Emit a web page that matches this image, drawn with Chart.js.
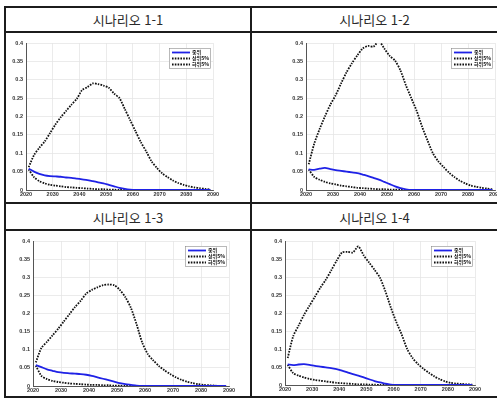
<!DOCTYPE html>
<html lang="ko">
<head>
<meta charset="utf-8">
<script src="https://cdn.jsdelivr.net/npm/chart.js@4.4.1/dist/chart.umd.min.js"></script>
<style>
  html, body { margin: 0; padding: 0; background: #fff; }
  body { width: 497px; height: 398px; position: relative; overflow: hidden; font-family: "Noto Sans CJK KR", sans-serif; }
  .rule { position: absolute; background: #1c1c1c; z-index: 2; }
  .title { position: absolute; text-align: center; font-size: 13px; color: #2a2a2a; z-index: 2; }
  canvas { position: absolute; }
</style>
</head>
<body>
  <!-- table frame -->
  <div class="rule" style="left:4px; top:6px; width:493px; height:2px"></div>
  <div class="rule" style="left:4px; top:31px; width:493px; height:2px"></div>
  <div class="rule" style="left:4px; top:202px; width:493px; height:2px"></div>
  <div class="rule" style="left:4px; top:229px; width:493px; height:2px"></div>
  <div class="rule" style="left:4px; top:396px; width:493px; height:2px"></div>
  <div class="rule" style="left:4px; top:6px; width:2px; height:392px"></div>
  <div class="rule" style="left:250px; top:6px; width:2px; height:392px"></div>

  <div class="title" style="left:6px; top:8px; width:244px; height:24px; line-height:24px">시나리오 1-1</div>
  <div class="title" style="left:252px; top:8px; width:245px; height:24px; line-height:24px">시나리오 1-2</div>
  <div class="title" style="left:6px; top:205px; width:244px; height:25px; line-height:25px">시나리오 1-3</div>
  <div class="title" style="left:252px; top:205px; width:245px; height:25px; line-height:25px">시나리오 1-4</div>

  <canvas id="c11" style="left:6px; top:34px"></canvas>
  <canvas id="c12" style="left:254px; top:34px"></canvas>
  <canvas id="c13" style="left:6px; top:232px"></canvas>
  <canvas id="c14" style="left:254px; top:232px"></canvas>

<script>
const years = [2021, 2023, 2025, 2027, 2029, 2031, 2033, 2035, 2037, 2039, 2041, 2043,
  2045, 2047, 2049, 2051, 2053, 2055, 2057, 2059, 2061, 2063, 2065, 2067, 2069, 2071,
  2073, 2075, 2077, 2079, 2081, 2083, 2085, 2087, 2089];
const xTicks = [2020, 2030, 2040, 2050, 2060, 2070, 2080, 2090];
const yTicks = [0, 0.05, 0.1, 0.15, 0.2, 0.25, 0.3, 0.35, 0.4];
const seriesLabels = ['중위', '상위5%', '하위5%'];

// 시나리오 1-1
const median11 = [0.058, 0.05, 0.044, 0.04, 0.038, 0.037, 0.036, 0.034, 0.033, 0.031, 0.029, 0.027,
  0.024, 0.021, 0.018, 0.014, 0.01, 0.006, 0.003, 0.001, 0, 0, 0, 0, 0, 0, 0, 0, 0, 0, 0, 0, 0, 0, 0];
const upper11 = [0.062, 0.095, 0.115, 0.132, 0.155, 0.178, 0.198, 0.215, 0.232, 0.248, 0.272, 0.28,
  0.29, 0.288, 0.284, 0.278, 0.262, 0.25, 0.22, 0.19, 0.16, 0.13, 0.105, 0.078, 0.06, 0.045,
  0.035, 0.026, 0.019, 0.014, 0.01, 0.007, 0.005, 0.003, 0.001];
const lower11 = [0.056, 0.035, 0.024, 0.018, 0.014, 0.012, 0.01, 0.008, 0.007, 0.006, 0.005, 0.004,
  0.003, 0.002, 0.002, 0.001, 0.001, 0, 0, 0, 0, 0, 0, 0, 0, 0, 0, 0, 0, 0, 0, 0, 0, 0, 0];

// 시나리오 1-2
const median12 = [0.056, 0.055, 0.058, 0.06, 0.057, 0.054, 0.052, 0.05, 0.048, 0.046, 0.042, 0.038,
  0.033, 0.028, 0.022, 0.016, 0.01, 0.005, 0.002, 0, 0, 0, 0, 0, 0, 0, 0, 0, 0, 0, 0, 0, 0, 0, 0];
const upper12 = [0.07, 0.125, 0.165, 0.2, 0.232, 0.258, 0.29, 0.32, 0.345, 0.366, 0.385, 0.392,
  0.39, 0.405, 0.385, 0.365, 0.352, 0.325, 0.285, 0.25, 0.215, 0.172, 0.135, 0.1, 0.078, 0.062,
  0.047, 0.035, 0.025, 0.018, 0.012, 0.009, 0.006, 0.004, 0.002];
const lower12 = [0.056, 0.036, 0.028, 0.022, 0.018, 0.015, 0.012, 0.01, 0.008, 0.006, 0.005, 0.004,
  0.003, 0.002, 0.002, 0.001, 0.001, 0, 0, 0, 0, 0, 0, 0, 0, 0, 0, 0, 0, 0, 0, 0, 0, 0, 0];

// 시나리오 1-3
const median13 = [0.058, 0.052, 0.046, 0.042, 0.038, 0.036, 0.035, 0.034, 0.033, 0.031, 0.028, 0.024,
  0.02, 0.016, 0.012, 0.008, 0.005, 0.003, 0.001, 0, 0, 0, 0, 0, 0, 0, 0, 0, 0, 0, 0, 0, 0, 0, 0];
const upper13 = [0.065, 0.105, 0.122, 0.14, 0.158, 0.178, 0.198, 0.218, 0.235, 0.255, 0.265, 0.272,
  0.278, 0.28, 0.278, 0.265, 0.245, 0.215, 0.17, 0.12, 0.088, 0.07, 0.055, 0.043, 0.033, 0.024,
  0.017, 0.012, 0.008, 0.005, 0.003, 0.002, 0.001, 0, 0];
const lower13 = [0.056, 0.028, 0.019, 0.014, 0.011, 0.009, 0.007, 0.006, 0.005, 0.004, 0.003, 0.003,
  0.002, 0.002, 0.001, 0.001, 0, 0, 0, 0, 0, 0, 0, 0, 0, 0, 0, 0, 0, 0, 0, 0, 0, 0, 0];

// 시나리오 1-4
const median14 = [0.057, 0.055, 0.057, 0.058, 0.056, 0.053, 0.051, 0.049, 0.047, 0.044, 0.04, 0.035,
  0.03, 0.026, 0.021, 0.016, 0.011, 0.007, 0.004, 0.001, 0, 0, 0, 0, 0, 0, 0, 0, 0, 0, 0, 0, 0, 0, 0];
const upper14 = [0.075, 0.135, 0.165, 0.195, 0.22, 0.245, 0.27, 0.292, 0.318, 0.345, 0.368, 0.37,
  0.368, 0.385, 0.36, 0.34, 0.32, 0.298, 0.26, 0.215, 0.175, 0.14, 0.1, 0.075, 0.058, 0.045,
  0.034, 0.024, 0.016, 0.01, 0.006, 0.004, 0.003, 0.002, 0.001];
const lower14 = [0.056, 0.033, 0.026, 0.021, 0.017, 0.014, 0.012, 0.01, 0.008, 0.006, 0.005, 0.004,
  0.003, 0.002, 0.002, 0.001, 0.001, 0, 0, 0, 0, 0, 0, 0, 0, 0, 0, 0, 0, 0, 0, 0, 0, 0, 0];

const toPoints = vals => years.map((x, i) => ({ x, y: vals[i] }));

// small boxed legend in the upper right of the plot area
const boxLegend = {
    id: 'boxLegend',
    afterDatasetsDraw(chart) {
        const { ctx, chartArea } = chart;
        const w = 42, h = 21;
        const x = chartArea.right - w - 2, y = chartArea.top + 5;
        ctx.save();
        ctx.fillStyle = '#fff';
        ctx.fillRect(x, y, w, h);
        ctx.strokeStyle = '#8a8a8a';
        ctx.lineWidth = 0.6;
        ctx.strokeRect(x + 0.5, y + 0.5, w - 1, h - 1);
        ctx.font = 'bold 5px "Noto Sans CJK KR"';
        ctx.textBaseline = 'middle';
        chart.data.datasets.forEach((ds, i) => {
            const ly = y + 4.5 + i * 6;
            ctx.strokeStyle = ds.borderColor;
            ctx.lineWidth = ds.borderWidth;
            ctx.setLineDash(ds.borderDash || []);
            ctx.beginPath();
            ctx.moveTo(x + 3, ly);
            ctx.lineTo(x + 21, ly);
            ctx.stroke();
            ctx.setLineDash([]);
            ctx.fillStyle = '#111';
            ctx.fillText(ds.label, x + 23, ly);
        });
        ctx.restore();
    }
};

const tickFont = { family: 'Arial, "Liberation Sans"', size: 5.5, weight: 'bold' };

const makeChart = (id, size, pad, axisW, axisH, median, upper, lower) => {
    const el = document.getElementById(id);
    el.width = size[0];
    el.height = size[1];
    el.style.width = size[0] + 'px';
    el.style.height = size[1] + 'px';
    return new Chart(el, {
        type: 'line',
        data: {
            datasets: [
                { label: seriesLabels[0], data: toPoints(median), borderColor: '#1f22e6', borderWidth: 1.8 },
                { label: seriesLabels[1], data: toPoints(upper), borderColor: '#111', borderWidth: 1.8, borderDash: [1.6, 1.2] },
                { label: seriesLabels[2], data: toPoints(lower), borderColor: '#111', borderWidth: 1.8, borderDash: [1.6, 1.2] }
            ]
        },
        options: {
            responsive: false,
            animation: false,
            events: [],
            elements: { point: { radius: 0 }, line: { tension: 0.25 } },
            layout: { padding: { top: pad[0], right: pad[1], left: 0, bottom: 0 } },
            plugins: { legend: { display: false }, tooltip: { enabled: false } },
            scales: {
                x: {
                    type: 'linear', min: 2020, max: 2090,
                    afterBuildTicks: s => { s.ticks = xTicks.map(v => ({ value: v })); },
                    afterFit: s => { s.height = axisH; s.paddingLeft = 0; s.paddingRight = 0; },
                    ticks: { font: tickFont, color: '#333', padding: 1, maxRotation: 0, callback: v => String(v) },
                    grid: { color: '#e6e6e6', lineWidth: 0.8, drawTicks: false },
                    border: { color: '#555', width: 1 }
                },
                y: {
                    min: 0, max: 0.4,
                    afterBuildTicks: s => { s.ticks = yTicks.map(v => ({ value: v })); },
                    afterFit: s => { s.width = axisW; s.paddingTop = 0; s.paddingBottom = 0; },
                    ticks: { font: tickFont, color: '#333', padding: 3, callback: v => String(+v.toFixed(2)) },
                    grid: { color: '#e6e6e6', lineWidth: 0.8, drawTicks: false },
                    border: { color: '#555', width: 1 }
                }
            }
        },
        plugins: [boxLegend]
    });
};

makeChart('c11', [246, 168], [9, 39], 20, 12, median11, upper11, lower11);
makeChart('c12', [260, 168], [9, 19], 52, 12, median12, upper12, lower12);
makeChart('c13', [246, 166], [9, 23], 27, 12, median13, upper13, lower13);
makeChart('c14', [243, 166], [9, 22], 31, 13, median14, upper14, lower14);
</script>
</body>
</html>
